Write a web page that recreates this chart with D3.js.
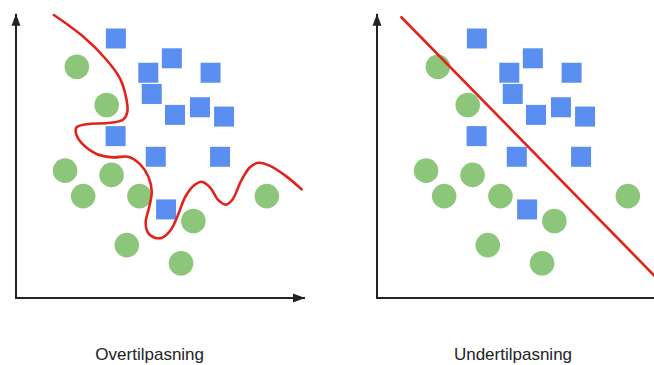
<!DOCTYPE html>
<html>
<head>
<meta charset="utf-8">
<script src="https://cdn.jsdelivr.net/npm/d3@7"></script>
<style>
  html, body { margin: 0; padding: 0; background: #fff; }
  svg { display: block; }
</style>
</head>
<body>
<svg id="chart" width="654" height="365"></svg>
<script>
// ---- data (axis units 0..100 in each panel) ----
const panelTitles = ["Overtilpasning", "Undertilpasning"];

const squareX = [34.8, 54.3, 46.1, 67.8, 47.3, 55.4, 64.1, 72.5, 34.7, 48.7, 71.1, 52.3];
const squareY = [91.7, 84.7, 79.6, 79.6, 72.1, 64.7, 67.4, 64.1, 57.2, 49.9, 49.9, 31.3];

const circleX = [21.2, 31.6, 17.1, 33.3, 23.4, 43.0, 61.8, 38.6, 57.5, 87.4];
const circleY = [81.7, 68.2, 45.0, 43.5, 36.0, 36.0, 27.2, 18.7, 12.3, 36.0];

const overfitX = [13.2, 23.5, 31.6, 36.2, 38.3, 38.8, 37.4, 32.8, 24.6, 21.1, 20.9, 22.9, 28.1, 33.9, 39.1, 43.2, 46.1, 47.3, 46.3, 45.2, 45.8, 48.1, 51.1, 53.9, 56.2, 58.9, 61.8, 64.7, 67.6, 70.5, 73.2, 75.5, 78.3, 81.5, 84.4, 88.5, 94.3, 99.5];
const overfitY = [100.0, 92.3, 84.1, 77.6, 71.1, 65.8, 63.1, 61.9, 61.4, 60.3, 58.2, 54.7, 50.9, 49.7, 49.9, 47.3, 42.9, 37.6, 31.7, 27.0, 23.4, 21.4, 21.4, 24.0, 28.7, 35.6, 39.6, 41.1, 39.1, 34.6, 33.0, 34.9, 41.1, 46.2, 47.8, 46.7, 42.9, 38.4];

const underfitX = [8.5, 100];
const underfitY = [99.2, 4.4];

// ---- layout ----
const panels = [
  { left: 16, title: panelTitles[0], lineX: overfitX, lineY: overfitY, curve: d3.curveCatmullRom.alpha(0.5), titleX: 149.7 },
  { left: 377, title: panelTitles[1], lineX: underfitX, lineY: underfitY, curve: d3.curveLinear, titleX: 513 }
];
const plotW = 287, plotBottom = 298, plotTop = 15;
const colors = { blue: "#5a8ef0", green: "#8cc67a", red: "#e2231c", axis: "#222" };

const svg = d3.select("#chart");
const defs = svg.append("defs");
defs.append("marker")
  .attr("id", "arrow")
  .attr("viewBox", "0 0 12 10")
  .attr("refX", 12).attr("refY", 5)
  .attr("markerWidth", 12).attr("markerHeight", 10)
  .attr("markerUnits", "userSpaceOnUse")
  .attr("orient", "auto")
  .append("path").attr("d", "M0,0.5 L12,5 L0,9.5 Z").attr("fill", colors.axis);

panels.forEach(p => {
  const x = d3.scaleLinear().domain([0, 100]).range([p.left, p.left + plotW]);
  const y = d3.scaleLinear().domain([0, 100]).range([plotBottom, plotTop]);
  const g = svg.append("g");

  // axes with arrows
  g.append("line")
    .attr("x1", x(0)).attr("y1", y(0)).attr("x2", x(0)).attr("y2", y(100.4))
    .attr("stroke", colors.axis).attr("stroke-width", 2).attr("marker-end", "url(#arrow)");
  g.append("line")
    .attr("x1", x(0) - 1).attr("y1", y(0)).attr("x2", x(100.7)).attr("y2", y(0))
    .attr("stroke", colors.axis).attr("stroke-width", 2).attr("marker-end", "url(#arrow)");

  // circles
  g.selectAll("circle.pt").data(circleX.map((v, i) => [v, circleY[i]]))
    .join("circle").attr("class", "pt")
    .attr("cx", d => x(d[0])).attr("cy", d => y(d[1])).attr("r", 12.3)
    .attr("fill", colors.green);

  // squares
  const s = 20;
  g.selectAll("rect.pt").data(squareX.map((v, i) => [v, squareY[i]]))
    .join("rect").attr("class", "pt")
    .attr("x", d => x(d[0]) - s / 2).attr("y", d => y(d[1]) - s / 2)
    .attr("width", s).attr("height", s)
    .attr("fill", colors.blue);

  // decision boundary
  const line = d3.line().x(d => x(d[0])).y(d => y(d[1])).curve(p.curve);
  g.append("path")
    .datum(p.lineX.map((v, i) => [v, p.lineY[i]]))
    .attr("d", line)
    .attr("fill", "none").attr("stroke", colors.red).attr("stroke-width", 2.6)
    .attr("stroke-linejoin", "round").attr("stroke-linecap", "round");

  // title
  g.append("text")
    .attr("x", p.titleX).attr("y", 360)
    .attr("text-anchor", "middle")
    .attr("font-family", "Liberation Sans, Arial, sans-serif")
    .attr("font-size", 17).attr("fill", "#222")
    .text(p.title);
});
</script>
</body>
</html>
